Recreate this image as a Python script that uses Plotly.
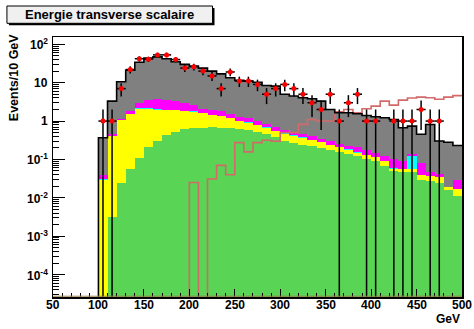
import numpy as np
import plotly.graph_objects as go

# ---------------- data (10 GeV bins from 50 to 500 GeV) ----------------
bin_low = list(range(50, 500, 10))

green = [0, 0, 0, 0, 0, 0, 0.0032, 0.024, 0.056, 0.11, 0.216, 0.30, 0.43, 0.52, 0.61,
         0.67, 0.67, 0.68, 0.67, 0.66, 0.62, 0.58, 0.52, 0.45, 0.38, 0.30, 0.27, 0.24,
         0.22, 0.20, 0.18, 0.16, 0.14, 0.12, 0.10, 0.09, 0.068, 0.05, 0.046, 0.046,
         0.029, 0.028, 0.025, 0.016, 0.011]
yellow = [0, 0, 0, 0, 0, 0.030, 0.407, 1.026, 1.444, 1.99, 1.884, 1.70, 1.52, 1.38, 1.19,
          1.08, 0.93, 0.77, 0.68, 0.51, 0.38, 0.32, 0.25, 0.22, 0.17, 0.17, 0.15, 0.13,
          0.10, 0.08, 0.06, 0.05, 0.04, 0.03, 0.03, 0.025, 0.022, 0.008, 0.010, 0.010,
          0.010, 0.008, 0.009, 0.003, 0.006]
cyan = [0, 0, 0, 0, 0, 0.001, 0.01, 0.03, 0.06, 0.08, 0.07, 0.06, 0.05, 0.05, 0.05,
        0.04, 0.04, 0.03, 0.03, 0.03, 0.02, 0.02, 0.02, 0.02, 0.015, 0.01, 0.01, 0.01,
        0.01, 0.01, 0.005, 0.005, 0.005, 0.005, 0.003, 0.003, 0.002, 0.002, 0.001, 0.064,
        0.001, 0.001, 0.001, 0.0002, 0.0002]
magenta = [0, 0, 0, 0, 0, 0.008, 0.03, 0.07, 0.24, 0.82, 1.28, 1.60, 1.50, 1.35, 1.15,
           0.81, 0.46, 0.45, 0.42, 0.30, 0.28, 0.30, 0.21, 0.13, 0.155, 0.10, 0.07, 0.07,
           0.07, 0.06, 0.055, 0.045, 0.045, 0.055, 0.047, 0.032, 0.028, 0.04, 0.033, 0.016,
           0.043, 0.009, 0.006, 0.0003, 0.0128]
gray = [0, 0, 0, 0, 0, 0.33, 2.85, 9.45, 19.2, 31.0, 40.5, 43.3, 38.5, 31.7, 27.0,
        24.4, 21.9, 18.1, 15.2, 11.9, 10.3, 9.8, 9.3, 7.6, 7.4, 4.4, 4.0, 3.6,
        3.4, 2.95, 1.7, 1.39, 1.42, 1.34, 1.22, 1.15, 1.1, 1.0, 0.58, 0.60,
        0.37, 0.77, 0.26, 0.26, 0.20]
signal = [0, 0, 0, 0, 0, 0, 0, 0, 0, 0, 0, 0, 0, 0, 0,
          0.025, 0, 0.031, 0.07, 0.04, 0.275, 0.157, 0.275, 0.315, 0.30, 0.50, 0.50, 0.82,
          1.1, 1.0, 1.0, 1.75, 2.0, 1.65, 2.1, 2.45, 3.3, 2.6, 3.5, 4.0,
          4.2, 4.05, 3.7, 4.2, 4.6]
data_counts = [0, 0, 0, 0, 0, 1, 1, 7, 22, 42, 41, 53, 53, 40, 24,
               26, 20, 15, 7, 19, 11, 11, 9, 5, 7, 9, 7, 5,
               3, 2, 5, 1, 3, 5, 1, 1, 0, 1, 1, 1,
               2, 1, 1, 0, 0]

y_tick_vals = [1e-4, 1e-3, 1e-2, 1e-1, 1, 10, 100]
y_tick_text = ["10<sup>-4</sup>", "10<sup>-3</sup>", "10<sup>-2</sup>", "10<sup>-1</sup>",
               "1", "10", "10<sup>2</sup>"]
x_tick_vals = list(range(50, 501, 50))
x_tick_text = [str(v) for v in x_tick_vals]

title_text = "Energie transverse scalaire"
y_title = "Events/10 GeV"
x_title = "GeV"

# ---------------- geometry helpers ----------------
W, H = 474, 329
L, R, T, B = 53, 10, 37, 32
pw, ph = W - L - R, H - T - B


def px(x):
    return (x - L) / pw


def py(y):
    return (H - B - y) / ph


bin_width = 10
edges = np.array(bin_low + [bin_low[-1] + bin_width])
centers = np.array(bin_low) + bin_width / 2
FLOOR = 1e-9


def step(vals):
    v = [x if x > 0 else FLOOR for x in vals]
    return edges, v + [v[-1]]


fig = go.Figure()

# stacked histograms, drawn as cumulative levels (largest first)
comps = np.array([green, yellow, cyan, magenta, gray])
cum = np.cumsum(comps, axis=0)
colors = ["#59d454", "#ffff00", "#00ffff", "#ff00ff", "#808080"]
for level, col in reversed(list(zip(cum, colors))):
    fig.add_trace(go.Bar(
        x=centers, y=[v if v > 0 else None for v in level], width=bin_width,
        marker=dict(color=col, line=dict(width=0)), showlegend=False, hoverinfo="skip"))

# signal histogram outline
sx, sy = step(signal)
fig.add_trace(go.Scatter(x=sx, y=sy, mode="lines", line=dict(color="#d26a6a", width=1.6, shape="hv"),
                         showlegend=False, hoverinfo="skip"))

# total background outline
tx, ty = step(list(cum[-1]))
fig.add_trace(go.Scatter(x=tx, y=ty, mode="lines", line=dict(color="black", width=1.6, shape="hv"),
                         showlegend=False, hoverinfo="skip"))

# data points
dc = np.array(data_counts, dtype=float)
mask = dc > 0
fig.add_trace(go.Scatter(
    x=centers[mask], y=dc[mask], mode="markers",
    marker=dict(color="#ff0000", size=5, symbol="circle"),
    error_y=dict(type="data", array=np.sqrt(dc[mask]), color="black", thickness=1.5, width=0),
    error_x=dict(type="constant", value=bin_width / 2, color="black", thickness=1.5, width=0),
    showlegend=False, hoverinfo="skip"))

# minor ticks for log axis
y_minor = [m * 10.0 ** k for k in range(-5, 3) for m in range(2, 10)]

FONT = "Liberation Sans, Arial, sans-serif"

fig.update_layout(
    width=W, height=H,
    margin=dict(l=L, r=R, t=T, b=B),
    paper_bgcolor="white", plot_bgcolor="white",
    barmode="overlay", bargap=0,
    xaxis=dict(range=[50, 500], tickmode="array", tickvals=x_tick_vals, showticklabels=False,
               ticks="inside", ticklen=8, tickwidth=1, tickcolor="black",
               minor=dict(dtick=10, tick0=50, ticks="inside", ticklen=4, tickcolor="black"),
               showline=True, linecolor="black", linewidth=1.5, mirror=True,
               showgrid=False, zeroline=False),
    yaxis=dict(type="log", range=[-4.584, 2.19], tickmode="array",
               tickvals=y_tick_vals, showticklabels=False,
               ticks="inside", ticklen=12, tickwidth=1, tickcolor="black",
               minor=dict(tickmode="array", tickvals=y_minor, ticks="inside", ticklen=6,
                          tickcolor="black"),
               showline=True, linecolor="black", linewidth=1.5, mirror=True,
               showgrid=False, zeroline=False),
)

# tick labels
for v, t in zip(x_tick_vals, x_tick_text):
    fig.add_annotation(text="<b>%s</b>" % t, xref="x", yref="paper", x=v, y=py(305),
                       xanchor="center", yanchor="middle", showarrow=False,
                       font=dict(family=FONT, size=12, color="black"))
for v, t in zip(y_tick_vals, y_tick_text):
    fig.add_annotation(text="<b>%s</b>" % t, xref="paper", yref="y", x=px(49.5), y=np.log10(v),
                       xanchor="right", yanchor="middle", showarrow=False,
                       font=dict(family=FONT, size=12, color="black"))

# bottom zero line of the signal histogram
fig.add_shape(type="line", xref="x", yref="paper", x0=50, x1=500, y0=0.003, y1=0.003,
              line=dict(color="#9a8050", width=1))

# title box with shadow
fig.add_shape(type="rect", xref="paper", yref="paper",
              x0=px(8.7), x1=px(215.3), y0=py(25.3), y1=py(8),
              fillcolor="black", line=dict(width=0))
fig.add_shape(type="rect", xref="paper", yref="paper",
              x0=px(6.7), x1=px(213.3), y0=py(23.3), y1=py(6),
              fillcolor="#f0f0f0", line=dict(color="black", width=1))
fig.add_annotation(text="<b>%s</b>" % title_text, xref="paper", yref="paper",
                   x=px(110), y=py(14.7), xanchor="center", yanchor="middle", showarrow=False,
                   font=dict(family=FONT, size=13, color="black"))

fig.add_annotation(text="<b>%s</b>" % y_title, xref="paper", yref="paper",
                   x=px(14), y=py(31), xanchor="center", yanchor="top", textangle=-90,
                   showarrow=False, font=dict(family=FONT, size=12.5, color="black"))
fig.add_annotation(text="<b>%s</b>" % x_title, xref="paper", yref="paper",
                   x=px(463.5), y=py(319), xanchor="right", yanchor="middle", showarrow=False,
                   font=dict(family=FONT, size=12, color="black"))

fig.write_html("out.html", config={"staticPlot": True},
               post_script="document.body.style.margin='0px';")
